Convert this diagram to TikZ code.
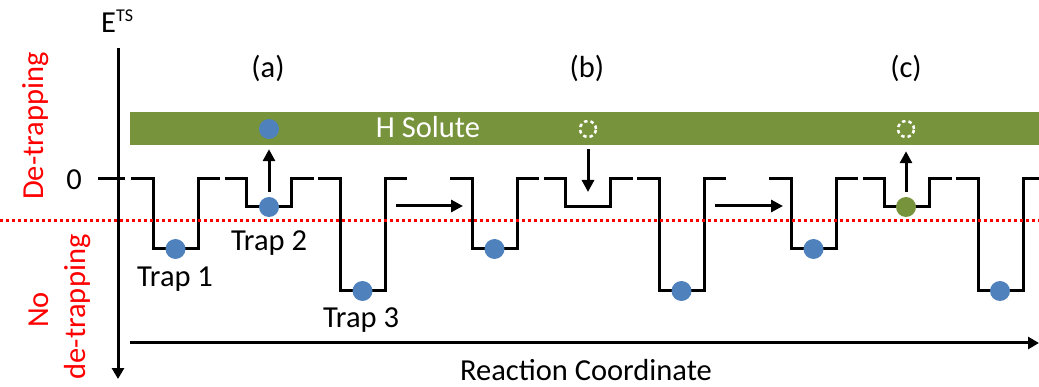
\documentclass[tikz,border=0pt]{standalone}
\usepackage{fontspec}
\setmainfont{Carlito}
\usetikzlibrary{arrows.meta,calc}
\definecolor{solgreen}{HTML}{77933C}
\definecolor{hblue}{HTML}{4F81BD}
\newcommand{\lbl}{\fontsize{30.5}{34}\selectfont}

\begin{document}
\begin{tikzpicture}[x=1pt,y=-1pt,
  every node/.style={font=\lbl},
  prof/.style={line width=3pt},
  ax/.style={line width=3pt,-{Triangle[length=11pt,width=12pt]}},
  arr/.style={line width=3pt,-{Triangle[length=12pt,width=12pt]}},
  ball/.style={circle,fill=hblue,minimum size=20pt,inner sep=0pt},
  gball/.style={ball,fill=solgreen},
  ghost/.style={circle,draw=white,line width=2.5pt,dash pattern=on 3.5pt off 3pt,minimum size=16pt,inner sep=0pt},
  txt/.style={anchor=base,inner sep=0pt},
  redtxt/.style={txt,text=red,rotate=90}
]
\useasboundingbox (0,0) rectangle (1039,387);

% solute band
\node[fill=solgreen,anchor=north west,minimum width=909pt,minimum height=33pt,inner sep=0pt] (band) at (130,112) {};
\node[txt,text=white] (hs) at (428,138) {H Solute};

% energy landscape: three panels of three traps each
\foreach \d in {0,319,638}{
  \foreach \k/\b in {0/249,1/207,2/291}{
    \pgfmathsetmacro\s{131+\d+93.5*\k}
    \pgfmathsetmacro\h{\b-179}
    \draw[prof] (\s,179) -- ++(22,0) -- ++(0,\h) -- ++(45,0) -- ++(0,-\h) -- ++(22,0);
  }
}

% axes
\coordinate (ytop) at (118,48);
\coordinate (ybot) at (118,379);
\draw[ax] (ytop) -- (ybot);
\coordinate (xl) at (130,343);
\coordinate (xr) at (1039,343);
\draw[ax] (xl) -- (xr);
\coordinate (t0) at (98,179);
\coordinate (t1) at (125,179);
\draw[prof] (t0) -- (t1);

% de-trapping threshold
\coordinate (rl) at (0,221);
\coordinate (rr) at (1039,221);
\draw[red,line width=3pt,dash pattern=on 3pt off 3pt] (rl) -- (rr);

% axis labels
\node[txt,anchor=base west] (ets) at (101,33) {E\raisebox{11pt}{\fontsize{18}{18}\selectfont TS}};
\node[txt] (zero) at (74,190) {0};
\node[txt] (rc) at (586,380) {Reaction Coordinate};
\node[redtxt] (dtr) at (43,126) {De-trapping};
\node[redtxt] (no) at (48,310) {No};
\node[redtxt] (ndtr) at (85,307) {de-trapping};

% panel titles
\node[txt] (pa) at (268,78) {(a)};
\node[txt] (pb) at (587,78) {(b)};
\node[txt] (pc) at (906,78) {(c)};

% trap labels
\node[txt] (tr1) at (175,287) {Trap 1};
\node[txt] (tr2) at (269,251) {Trap 2};
\node[txt] (tr3) at (361,327) {Trap 3};

% panel (a)
\node[ball] (a1) at (175.5,249) {};
\node[ball] (a2) at (269,207) {};
\node[ball] (a3) at (362.5,291) {};
\node[ball] (sa) at (269,129) {};
\draw[arr,shorten <=5pt,shorten >=10pt] (a2.north) -- (sa.south);

% panel (b)
\node[ball] (b1) at (494.5,249) {};
\node[ball] (b3) at (681.5,291) {};
\node[ghost] (gb) at (588,129) {};
\coordinate (fb) at (588,207);
\draw[arr,shorten <=11pt,shorten >=15pt] (gb.south) -- (fb);

% panel (c)
\node[ball] (c1) at (813.5,249) {};
\node[gball] (c2) at (906,207) {};
\node[ball] (c3) at (1000,291) {};
\node[ghost] (gc) at (906,129) {};
\draw[arr,shorten <=5pt,shorten >=13pt] (c2.north) -- (gc.south);

% transitions between panels
\coordinate (ab0) at (396,206);
\coordinate (ab1) at (463,206);
\draw[arr] (ab0) -- (ab1);
\coordinate (bc0) at (715,206);
\coordinate (bc1) at (783,206);
\draw[arr] (bc0) -- (bc1);
\end{tikzpicture}
\end{document}
